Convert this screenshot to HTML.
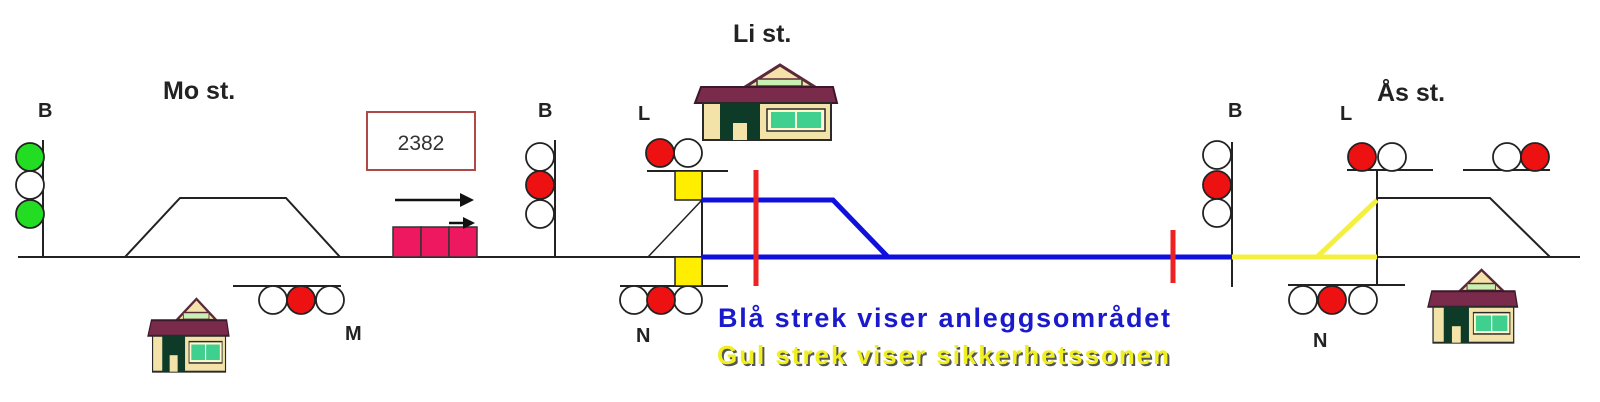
<!DOCTYPE html>
<html><head><meta charset="utf-8"><style>
html,body{margin:0;padding:0;background:#fff;}
svg{display:block;}
text{font-family:"Liberation Sans",sans-serif;font-weight:bold;}
</style></head><body>
<svg width="1600" height="402" viewBox="0 0 1600 402" xmlns="http://www.w3.org/2000/svg">
<defs>
<g id="house">
  <polygon points="50,24 85,2 120,24" fill="#f3e3a8" stroke="#5a2a3a" stroke-width="3"/>
  <rect x="62" y="16" width="45" height="7" fill="#c8f0b0" stroke="#5a2a3a" stroke-width="1.5"/>
  <polygon points="0,40 6,24 138,24 142,40" fill="#7a2a4a" stroke="#3a1a2a" stroke-width="2"/>
  <rect x="8" y="40" width="128" height="37" fill="#f3e3a8" stroke="#2a2a2a" stroke-width="2"/>
  <rect x="25" y="40" width="40" height="37" fill="#0e3a28"/>
  <rect x="38" y="60" width="14" height="17" fill="#f3e3a8"/>
  <rect x="72" y="46" width="58" height="22" fill="#fff8d0" stroke="#2a2a2a" stroke-width="1.5"/>
  <rect x="76" y="49" width="24" height="16" fill="#3fcf8f"/>
  <rect x="102" y="49" width="24" height="16" fill="#3fcf8f"/>
</g>
</defs>
<g stroke="#222" stroke-width="2" fill="none">
  <line x1="18" y1="257" x2="1580" y2="257"/>
  <polyline points="125,257 180,198 286,198 340,257"/>
  <line x1="43" y1="140" x2="43" y2="257"/>
  <line x1="555" y1="140" x2="555" y2="257"/>
  <line x1="233" y1="286" x2="341" y2="286"/>
  <line x1="647" y1="171" x2="728" y2="171"/>
  <line x1="620" y1="286" x2="728" y2="286"/>
  <line x1="702" y1="171" x2="702" y2="286"/>
  <line x1="648" y1="257" x2="702" y2="200" stroke-width="1.5"/>
  <line x1="1232" y1="142" x2="1232" y2="287"/>
  <line x1="1377" y1="170" x2="1377" y2="285"/>
  <line x1="1347" y1="170" x2="1433" y2="170"/>
  <line x1="1463" y1="170" x2="1550" y2="170"/>
  <line x1="1288" y1="285" x2="1405" y2="285"/>
  <polyline points="1377,198 1490,198 1550,257"/>
</g>
<g stroke="#222" stroke-width="1.8">
  <circle cx="30" cy="157" r="14" fill="#22dd22"/>
  <circle cx="30" cy="185" r="14" fill="#fff"/>
  <circle cx="30" cy="214" r="14" fill="#22dd22"/>
  <circle cx="540" cy="157" r="14" fill="#fff"/>
  <circle cx="540" cy="185" r="14" fill="#ee1111"/>
  <circle cx="540" cy="214" r="14" fill="#fff"/>
  <circle cx="273" cy="300" r="14" fill="#fff"/>
  <circle cx="330" cy="300" r="14" fill="#fff"/>
  <circle cx="301" cy="300" r="14" fill="#ee1111"/>
  <circle cx="688" cy="153" r="14" fill="#fff"/>
  <circle cx="660" cy="153" r="14" fill="#ee1111"/>
  <circle cx="634" cy="300" r="14" fill="#fff"/>
  <circle cx="688" cy="300" r="14" fill="#fff"/>
  <circle cx="661" cy="300" r="14" fill="#ee1111"/>
  <circle cx="1217" cy="155" r="14" fill="#fff"/>
  <circle cx="1217" cy="185" r="14" fill="#ee1111"/>
  <circle cx="1217" cy="213" r="14" fill="#fff"/>
  <circle cx="1392" cy="157" r="14" fill="#fff"/>
  <circle cx="1362" cy="157" r="14" fill="#ee1111"/>
  <circle cx="1507" cy="157" r="14" fill="#fff"/>
  <circle cx="1535" cy="157" r="14" fill="#ee1111"/>
  <circle cx="1303" cy="300" r="14" fill="#fff"/>
  <circle cx="1363" cy="300" r="14" fill="#fff"/>
  <circle cx="1332" cy="300" r="14" fill="#ee1111"/>
</g>
<rect x="675" y="171" width="27" height="29" fill="#ffee00" stroke="#222" stroke-width="1.5"/>
<rect x="675" y="257" width="27" height="29" fill="#ffee00" stroke="#222" stroke-width="1.5"/>
<g stroke="#1010dd" stroke-width="5" fill="none">
  <polyline points="702,200 833,200 888,257"/>
  <line x1="702" y1="257" x2="1232" y2="257"/>
</g>
<g stroke="#f5f040" stroke-width="5" fill="none">
  <line x1="1232" y1="257" x2="1377" y2="257"/>
  <line x1="1317" y1="257" x2="1377" y2="200"/>
</g>
<line x1="756" y1="170" x2="756" y2="286" stroke="#ee2222" stroke-width="5"/>
<line x1="1173" y1="230" x2="1173" y2="283" stroke="#ee2222" stroke-width="5"/>
<rect x="367" y="112" width="108" height="58" fill="#fff" stroke="#b04848" stroke-width="2"/>
<text x="421" y="150" font-size="21" text-anchor="middle" fill="#333" style="font-weight:normal">2382</text>
<line x1="395" y1="200" x2="462" y2="200" stroke="#111" stroke-width="2.5"/>
<polygon points="460,193 474,200 460,207" fill="#111"/>
<g fill="#ee1860" stroke="#333" stroke-width="1.5">
  <rect x="393" y="227" width="28" height="30"/>
  <rect x="421" y="227" width="28" height="30"/>
  <rect x="449" y="227" width="28" height="30"/>
</g>
<line x1="449" y1="223" x2="465" y2="223" stroke="#111" stroke-width="2.5"/>
<polygon points="463,217 475,223 463,229" fill="#111"/>
<use href="#house" transform="translate(695,63)"/>
<use href="#house" transform="translate(148,297) scale(0.57,0.97)"/>
<use href="#house" transform="translate(1428,268) scale(0.63,0.97)"/>
<g fill="#222" font-size="20">
  <text x="38" y="117">B</text>
  <text x="538" y="117">B</text>
  <text x="638" y="120">L</text>
  <text x="1228" y="117">B</text>
  <text x="1340" y="120">L</text>
  <text x="345" y="340">M</text>
  <text x="636" y="342">N</text>
  <text x="1313" y="347">N</text>
</g>
<g fill="#222" font-size="25">
  <text x="163" y="99">Mo st.</text>
  <text x="733" y="42">Li  st.</text>
  <text x="1377" y="101">Ås st.</text>
</g>
<text x="718" y="327" font-size="27" fill="#1a1acc" textLength="452">Blå strek  viser anleggsområdet</text>
<text x="719" y="366" font-size="26" fill="#555" textLength="452">Gul strek viser sikkerhetssonen</text>
<text x="717" y="364" font-size="26" fill="#f0f020" textLength="452">Gul strek viser sikkerhetssonen</text>
</svg>
</body></html>
